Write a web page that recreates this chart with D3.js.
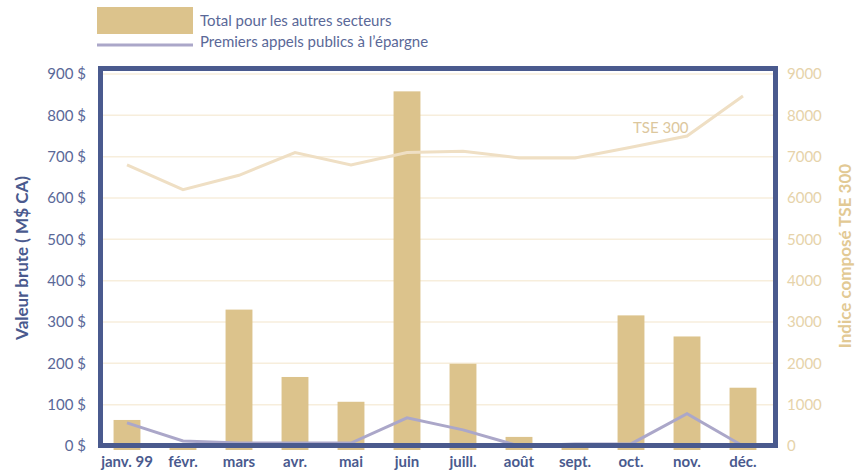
<!DOCTYPE html>
<meta charset="utf-8">
<head>
    <title>Valeur brute 1999</title>
    <script src="https://d3js.org/d3.v7.min.js"></script>
    <style>
        body { margin: 0; background: #fff; }
        svg text { font-family: "Lato", "Open Sans", sans-serif; }
    </style>
</head>
<body>
<div id="chart"></div>
<script>
    // data
    var months = ["janv. 99", "févr.", "mars", "avr.", "mai", "juin", "juill.", "août", "sept.", "oct.", "nov.", "déc."];
    var autresSecteurs = [63, 6, 330, 167, 107, 858, 199, 22, 0, 316, 265, 141];
    var premiersAppels = [56, 12, 7, 7, 7, 68, 39, 0, 5, 5, 78, 0];
    var tse300 = [6800, 6200, 6550, 7100, 6800, 7100, 7130, 6970, 6970, 7230, 7500, 8470];
    var leftTicks = [0, 100, 200, 300, 400, 500, 600, 700, 800, 900];
    var rightTicks = [0, 1000, 2000, 3000, 4000, 5000, 6000, 7000, 8000, 9000];

    var width = 862, height = 470;
    var blue = "#4a5a8e", tan = "#dcc38c", tseLine = "#efdfc4", purple = "#aba7c9";

    var svg = d3.select("#chart").append("svg")
        .attr("width", width)
        .attr("height", height);

    var x = d3.scaleBand()
        .domain(months)
        .range([99, 771])
        .paddingInner(0.52)
        .paddingOuter(0.26);

    var y = d3.scaleLinear().domain([0, 900]).range([446, 74]);
    var y2 = d3.scaleLinear().domain([0, 9000]).range([446, 74]);

    // grid lines
    svg.append("g")
        .selectAll("line")
        .data(leftTicks)
        .enter()
        .append("line")
        .attr("x1", 100)
        .attr("x2", 776)
        .attr("y1", function (d) { return y(d); })
        .attr("y2", function (d) { return y(d); })
        .style("stroke", "#f7eedc")
        .style("stroke-width", 1.5);

    // bars
    svg.append("g")
        .selectAll("rect")
        .data(autresSecteurs)
        .enter()
        .append("rect")
        .attr("x", function (d, i) { return x(months[i]); })
        .attr("width", x.bandwidth())
        .attr("y", function (d) { return y(d); })
        .attr("height", function (d) { return y(0) - y(d) + 4; })
        .style("fill", tan);

    var line = d3.line()
        .x(function (d, i) { return x(months[i]) + x.bandwidth() / 2; });

    // TSE 300 line
    svg.append("path")
        .datum(tse300)
        .attr("d", line.y(function (d) { return y2(d); }))
        .style("fill", "none")
        .style("stroke", tseLine)
        .style("stroke-width", 3);

    svg.append("text")
        .attr("x", 633)
        .attr("y", 133)
        .style("fill", "#dcc79d")
        .style("font-size", "15px")
        .text("TSE 300");

    // premiers appels line
    svg.append("path")
        .datum(premiersAppels)
        .attr("d", line.y(function (d) { return y(d); }))
        .style("fill", "none")
        .style("stroke", purple)
        .style("stroke-width", 3);

    // frame
    svg.append("rect")
        .attr("x", 100.5)
        .attr("y", 68.5)
        .attr("width", 675)
        .attr("height", 377)
        .style("fill", "none")
        .style("stroke", blue)
        .style("stroke-width", 5);

    // left axis labels
    svg.append("g")
        .selectAll("text")
        .data(leftTicks)
        .enter()
        .append("text")
        .attr("x", 86)
        .attr("y", function (d) { return y(d); })
        .attr("dy", "0.35em")
        .attr("text-anchor", "end")
        .style("fill", "#5a6898")
        .style("font-size", "15px")
        .text(function (d) { return d + " $"; });

    // right axis labels
    svg.append("g")
        .selectAll("text")
        .data(rightTicks)
        .enter()
        .append("text")
        .attr("x", 787)
        .attr("y", function (d) { return y2(d); })
        .attr("dy", "0.35em")
        .style("fill", "#e6d3aa")
        .style("font-size", "15px")
        .text(function (d) { return d; });

    // month labels
    svg.append("g")
        .selectAll("text")
        .data(months)
        .enter()
        .append("text")
        .attr("x", function (d) { return x(d) + x.bandwidth() / 2; })
        .attr("y", 467)
        .attr("text-anchor", "middle")
        .style("fill", blue)
        .style("font-size", "15px")
        .style("font-weight", "bold")
        .text(function (d) { return d; });

    // axis titles
    svg.append("text")
        .attr("transform", "translate(28, 258) rotate(-90)")
        .attr("text-anchor", "middle")
        .style("fill", blue)
        .style("font-size", "17px")
        .style("font-weight", "bold")
        .text("Valeur brute ( M$ CA)");

    svg.append("text")
        .attr("transform", "translate(851, 256) rotate(-90)")
        .attr("text-anchor", "middle")
        .style("fill", "#e2c994")
        .style("font-size", "17px")
        .style("font-weight", "bold")
        .text("Indice composé TSE 300");

    // legend
    svg.append("rect")
        .attr("x", 97)
        .attr("y", 7)
        .attr("width", 96)
        .attr("height", 27)
        .style("fill", tan);

    svg.append("line")
        .attr("x1", 97)
        .attr("x2", 193)
        .attr("y1", 45)
        .attr("y2", 45)
        .style("stroke", purple)
        .style("stroke-width", 3);

    svg.append("text")
        .attr("x", 200)
        .attr("y", 26)
        .style("fill", "#5a6898")
        .style("font-size", "15px")
        .text("Total pour les autres secteurs");

    svg.append("text")
        .attr("x", 200)
        .attr("y", 47)
        .style("fill", "#5a6898")
        .style("font-size", "15px")
        .text("Premiers appels publics à l’épargne");
</script>
</body>
